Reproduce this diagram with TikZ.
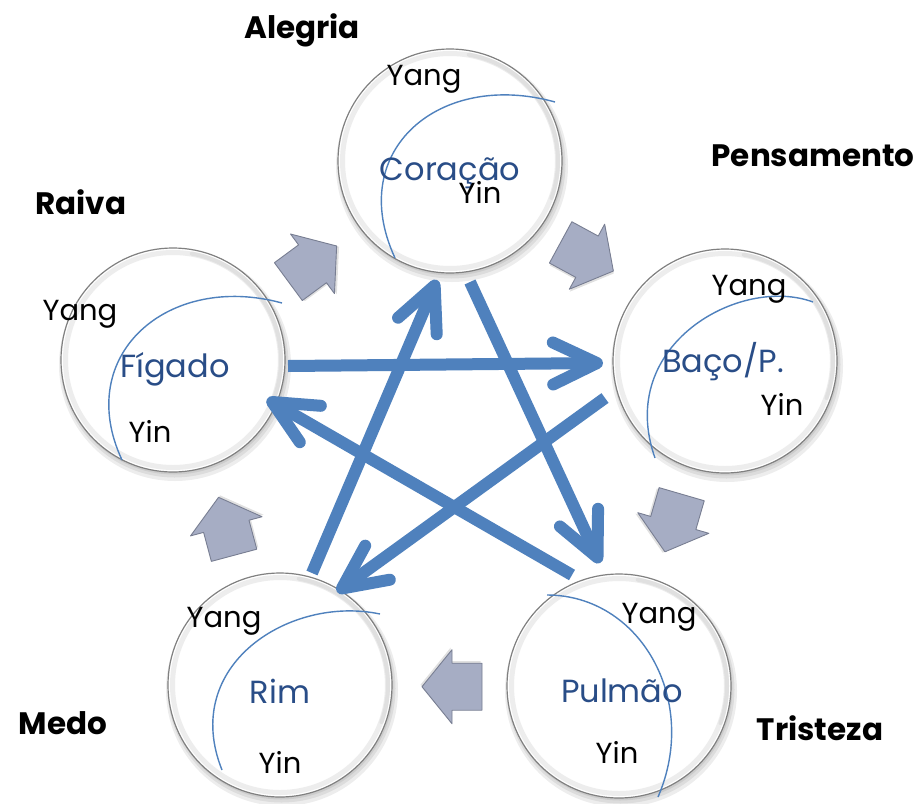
\documentclass[tikz,border=0pt]{standalone}
\usepackage{fontspec}
\setmainfont{Poppins}
\usetikzlibrary{arrows.meta}
\definecolor{starblue}{RGB}{79,129,189}
\definecolor{organblue}{RGB}{41,77,135}
\definecolor{blockfill}{RGB}{166,173,196}
\definecolor{blockedge}{RGB}{120,126,146}
\begin{document}
\begin{tikzpicture}[x=1pt,y=-1pt,
  organ/.style={circle, minimum size=224pt, inner sep=0pt, fill=white, draw=black!50, line width=1.2pt},
  softshadow/.style={fill=black, opacity=0.07},
  rimring/.style={draw=black!7, line width=5pt},
  rimarc/.style={draw=black!12, line width=4pt, line cap=round},
  yinyang/.style={font=\fontsize{29}{32}\selectfont, text=black, inner sep=0pt, anchor=base},
  organname/.style={font=\fontsize{32}{35}\selectfont, text=organblue, inner sep=0pt, anchor=base},
  emotion/.style={font=\bfseries\fontsize{31}{34}\selectfont, text=black, inner sep=0pt, anchor=base},
  yyarc/.style={draw=starblue, line width=1.4pt},
  star/.style={draw=starblue, line width=12pt, -{Straight Barb[length=44pt,width=42pt,round]}},
  blockshadow/.style={fill=black, opacity=0.12},
  blockstyle/.style={fill=blockfill, draw=blockedge, line width=0.9pt, line join=round},
  blockarrow/.pic={
    \path[blockshadow, shift={(1.5,2)}] (-30,-23.5) -- (0,-23.5) -- (0,-37) -- (30,0) -- (0,37) -- (0,23.5) -- (-30,23.5) -- cycle;
    \path[blockstyle] (-30,-23.5) -- (0,-23.5) -- (0,-37) -- (30,0) -- (0,37) -- (0,23.5) -- (-30,23.5) -- cycle;}
]
\fill[white] (0,0) rectangle (917,803);
\useasboundingbox (0,0) rectangle (917,803);

% circle centres
\coordinate (cC) at (450,161);
\coordinate (cF) at (173,360);
\coordinate (cB) at (725,361);
\coordinate (cR) at (280,685);
\coordinate (cP) at (619,686);

% soft shadows
\foreach \c in {cC,cF,cB,cR,cP}{
  \fill[softshadow, shift={(\c)}] (2,5) circle (116pt);
  \fill[softshadow, shift={(\c)}] (1.5,3.5) circle (114pt);
  \fill[softshadow, shift={(\c)}] (1,2) circle (112.5pt);
}

% circles
\node[organ] (coracao) at (cC) {};
\node[organ] (figado) at (cF) {};
\node[organ] (baco) at (cB) {};
\node[organ] (rim) at (cR) {};
\node[organ] (pulmao) at (cP) {};

% bevel rings
\foreach \n in {coracao,figado,baco,rim,pulmao}{
  \draw[rimring] (\n.center) circle (107.5pt);
  \draw[rimarc] ([shift={(0,0)}]\n.center) ++(-80:-0pt) ++(80:108pt) arc[start angle=80, end angle=-20, radius=108pt];
}

% yin-yang arcs
\draw[yyarc] (555,102) .. controls (440,70) and (345,150) .. (395,258);
\draw[yyarc] (282,303) .. controls (168,272) and (73,355) .. (122,460);
\draw[yyarc] (813,302) .. controls (740,275) and (615,345) .. (655,458);
\draw[yyarc] (380,614) .. controls (290,595) and (180,665) .. (222,770);
\draw[yyarc] (547,595) .. controls (640,595) and (700,700) .. (658,797);

% texts inside circles
\node[yinyang] (yangC) at (424,85) {Yang};
\node[organname] (nameC) at (450,180) {Coração};
\node[yinyang] (yinC) at (480,203) {Yin};

\node[yinyang] (yangF) at (80,320) {Yang};
\node[organname] (nameF) at (175,377) {Fígado};
\node[yinyang] (yinF) at (150,442) {Yin};

\node[yinyang] (yangB) at (749,295) {Yang};
\node[organname] (nameB) at (723,372) {Baço/P.};
\node[yinyang] (yinB) at (782,415) {Yin};

\node[yinyang] (yangR) at (224,627) {Yang};
\node[organname] (nameR) at (280,703) {Rim};
\node[yinyang] (yinR) at (280,773) {Yin};

\node[yinyang] (yangP) at (659,623) {Yang};
\node[organname] (nameP) at (622,702) {Pulmão};
\node[yinyang] (yinP) at (617,763) {Yin};

% emotions
\node[emotion] (alegria) at (302,38) {Alegria};
\node[emotion] (pensamento) at (813,166) {Pensamento};
\node[emotion] (raiva) at (81,214) {Raiva};
\node[emotion] (medo) at (63,734) {Medo};
\node[emotion] (tristeza) at (820,740) {Tristeza};

% generating cycle block arrows
\pic[rotate=36.4] (gen1) at (312.5,263.8) {blockarrow};
\pic[rotate=-28.5] (gen2) at (587,256.7) {blockarrow};
\pic[rotate=-106.2] (gen3) at (673.3,523) {blockarrow};
\pic[rotate=180] (gen4) at (452,686.7) {blockarrow};
\pic[rotate=105] (gen5) at (226.3,526.3) {blockarrow};

% star (control cycle) arrows
\coordinate (s1) at (288,366);  \coordinate (e1) at (603,363);
\coordinate (s2) at (312,573);  \coordinate (e2) at (437,280);
\coordinate (s3) at (470,282);  \coordinate (e3) at (600,563);
\coordinate (s4) at (605,398);  \coordinate (e4) at (337,592);
\coordinate (s5) at (572,575);  \coordinate (e5) at (267,399);
\draw[star] (s1) -- (e1);
\draw[star] (s2) -- (e2);
\draw[star] (s3) -- (e3);
\draw[star] (s4) -- (e4);
\draw[star] (s5) -- (e5);
\end{tikzpicture}
\end{document}
